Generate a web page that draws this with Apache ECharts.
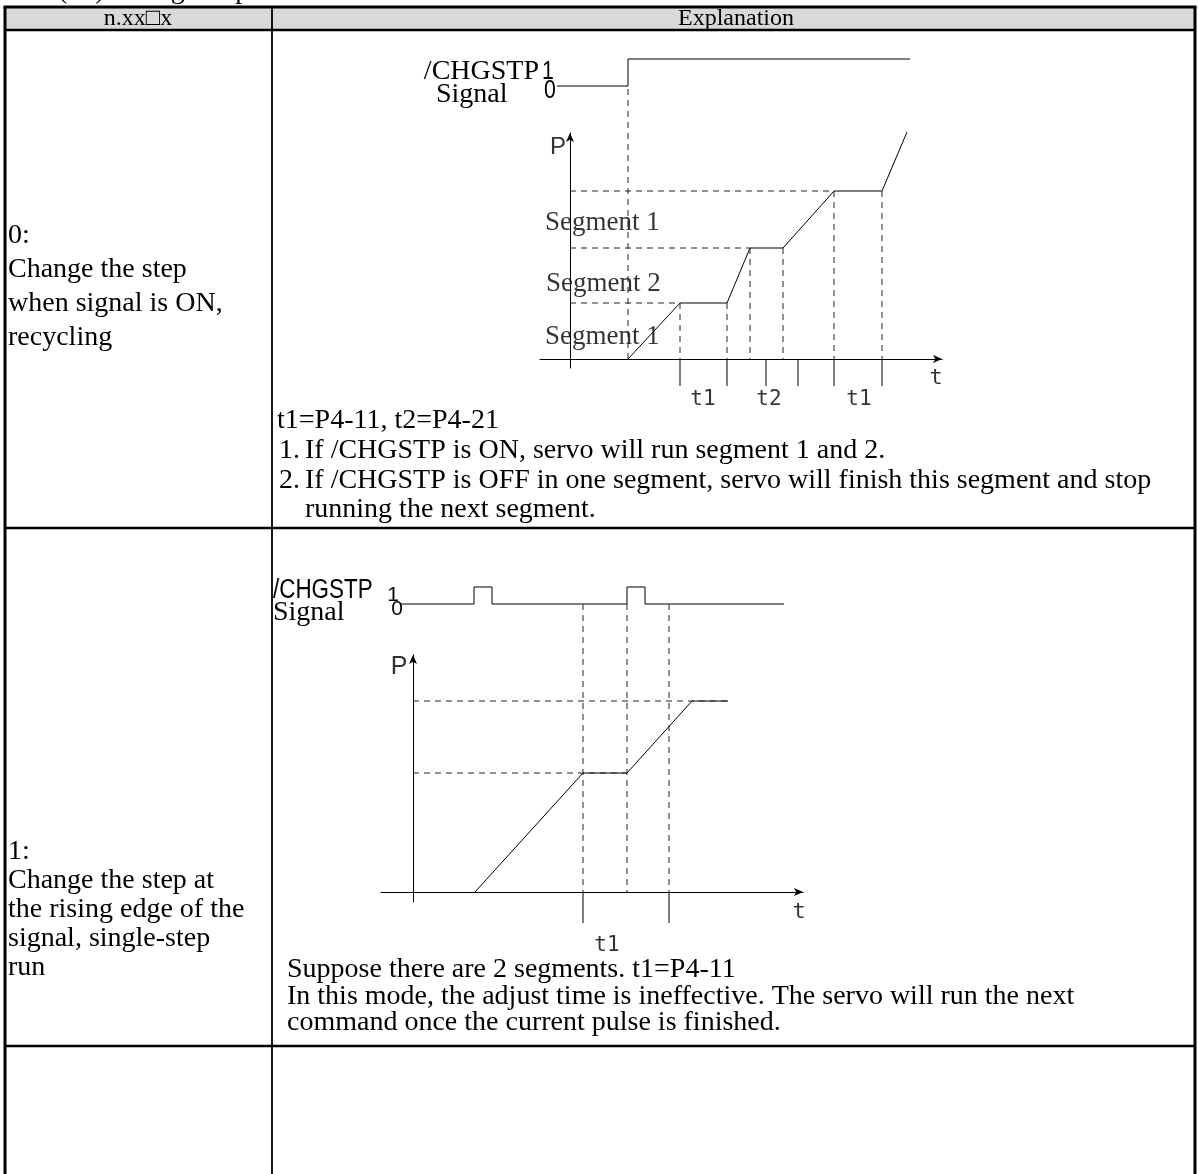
<!DOCTYPE html>
<html>
<head>
<meta charset="utf-8">
<script src="https://cdn.jsdelivr.net/npm/echarts@6/dist/echarts.min.js"></script>
<style>
html,body{margin:0;padding:0;background:#fff;}
#main{width:1198px;height:1174px;}
</style>
</head>
<body>
<div id="main"></div>
<script>
// ---- data (diagram units: 1 = 10px) ----
// mode 0 : change step while signal is ON
var sig0 = [[-1.3, 0], [5.8, 0], [5.8, 1], [34, 1]];
var pos0 = [[5.8, 0], [11, 5.6], [15.7, 5.6], [18, 11.1], [21.3, 11.1], [26.4, 16.8], [31.2, 16.8], [33.7, 22.7]];
var levels0 = [[11, 5.6], [18, 11.1], [26.4, 16.8]];
var drops0 = [[11, 5.6], [15.7, 5.6], [18, 11.1], [21.3, 11.1], [26.4, 16.8], [31.2, 16.8]];
var ticks0 = [11, 15.7, 19.6, 22.8, 26.4, 31.2];
var edge0 = 5.8, edgeTop0 = 27.3;
var segNames0 = [['Segment 1', -2.5, 13.6], ['Segment 2', -2.4, 7.5], ['Segment 1', -2.5, 2.2]];
var tNames0 = [['t1', 13.3, -4.1], ['t2', 19.9, -4.1], ['t1', 28.9, -4.1]];

// mode 1 : change step at rising edge
var sig1 = [[-1.2, 0], [6.1, 0], [6.1, 1], [7.9, 1], [7.9, 0], [21.4, 0], [21.4, 1], [23.2, 1], [23.2, 0], [37.1, 0]];
var pos1 = [[6.2, 0], [17, 11.9], [21.4, 11.9], [27.9, 19.1], [31.5, 19.1]];
var levels1 = [[21.4, 11.9], [31.5, 19.1]];
var drops1 = [17, 21.4, 25.6];
var ticks1 = [17, 25.6];
var dropTop1 = 28.8;
var tNames1 = [['t1', 19.4, -5.4]];

var SERIF = '"Liberation Serif","Times New Roman",serif';
var SANS = '"Liberation Sans",sans-serif';
var MONO = '"DejaVu Sans Mono",monospace';

var chart = echarts.init(document.getElementById('main'));

var blk = {color: '#000', width: 1};
var dash = {color: '#222', width: 1, type: [6, 5]};

function seg(xi, yi, pts, style) {
    return {type: 'line', xAxisIndex: xi, yAxisIndex: yi, data: pts, symbol: 'none',
        lineStyle: style, clip: false, silent: true};
}
function texts(xi, yi, arr, font, size, align) {
    return {type: 'scatter', xAxisIndex: xi, yAxisIndex: yi, symbolSize: 0, clip: false, silent: true,
        data: arr.map(function (a) { return {value: [a[1], a[2]], name: a[0]}; }),
        label: {show: true, position: 'inside', formatter: '{b}', color: '#000',
            fontFamily: font, fontSize: size, align: align || 'center', verticalAlign: 'middle'}};
}
function dim(xi, yi, a, b, y, syms) {
    return {type: 'line', xAxisIndex: xi, yAxisIndex: yi, data: [], silent: true,
        markLine: {silent: true, symbol: syms || ['arrow', 'arrow'], symbolSize: [6, 9],
            lineStyle: {color: '#000', width: 1, type: 'solid'}, label: {show: false},
            data: [[{coord: [a, y]}, {coord: [b, y]}]]}};
}

var grids = [
    {left: 557, top: 59, width: 385, height: 27},     // 0 signal, mode 0
    {left: 540, top: 133, width: 402, height: 235},   // 1 position, mode 0
    {left: 401, top: 587, width: 402, height: 17},    // 2 signal, mode 1
    {left: 381, top: 655, width: 422, height: 247}    // 3 position, mode 1
];
function sigAxisX(gi, min, max) { return {type: 'value', gridIndex: gi, show: false, min: min, max: max}; }
function sigAxisY(gi) { return {type: 'value', gridIndex: gi, show: false, min: 0, max: 1}; }
function posAxis(gi, min, max) {
    return {type: 'value', gridIndex: gi, min: min, max: max,
        axisLine: {onZero: true, symbol: ['none', 'arrow'], symbolSize: [6, 9], lineStyle: blk},
        axisTick: {show: false}, axisLabel: {show: false}, splitLine: {show: false}};
}

var series = [];
// mode 0
series.push(seg(0, 0, sig0, blk));
series.push(seg(1, 1, pos0, blk));
series.push(seg(1, 1, [[edge0, 0], [edge0, edgeTop0]], dash));
levels0.forEach(function (p) { series.push(seg(1, 1, [[0, p[1]], p], dash)); });
drops0.forEach(function (p) { series.push(seg(1, 1, [p, [p[0], 0]], dash)); });
ticks0.forEach(function (x) { series.push(seg(1, 1, [[x, 0], [x, -2.7]], blk)); });
series.push(dim(1, 1, ticks0[0], ticks0[1], -2.1));
series.push(dim(1, 1, 19.6, 22.1, -2.1, ['arrow', 'none']));
series.push(dim(1, 1, 18.5, 18.1, -2.1, ['none', 'arrow']));
series.push(dim(1, 1, ticks0[4], ticks0[5], -2.1));
series.push(texts(1, 1, segNames0, SERIF, 27, 'left'));
series.push(texts(1, 1, tNames0, MONO, 21));
series.push(texts(1, 1, [['P', -1.2, 21.2]], SANS, 24));
series.push(texts(1, 1, [['t', 36.6, -1.9]], MONO, 22));
// mode 1
series.push(seg(2, 2, sig1, blk));
series.push(seg(3, 3, pos1, blk));
levels1.forEach(function (p) { series.push(seg(3, 3, [[0, p[1]], p], dash)); });
drops1.forEach(function (x) { series.push(seg(3, 3, [[x, dropTop1], [x, 0]], dash)); });
ticks1.forEach(function (x) { series.push(seg(3, 3, [[x, 0], [x, -3.1]], blk)); });
series.push(dim(3, 3, ticks1[0], ticks1[1], -2.6));
series.push(texts(3, 3, tNames1, MONO, 21));
series.push(texts(3, 3, [['P', -1.4, 22.5]], SANS, 25));
series.push(texts(3, 3, [['t', 38.6, -2]], MONO, 22));

// ---- table layout ----
var T = {l: 5, r: 1195, top: 7, head: 30, col: 272, row1: 528, row2: 1046, bottom: 1174};
function hline(y, x1, x2, w) { return {type: 'line', shape: {x1: x1, y1: y, x2: x2, y2: y}, style: {stroke: '#000', lineWidth: w}, silent: true}; }
function vline(x, y1, y2, w) { return {type: 'line', shape: {x1: x, y1: y1, x2: x, y2: y2}, style: {stroke: '#000', lineWidth: w}, silent: true}; }
function txt(s, x, y, opt) {
    opt = opt || {};
    var el = {type: 'text', x: x, y: y, silent: true, z: 10,
        style: {text: s, fill: '#000', font: (opt.size || 28) + 'px ' + (opt.font || SERIF),
            textAlign: opt.align || 'left', textVerticalAlign: 'middle'}};
    if (opt.sx) { el.scaleX = opt.sx; }
    return el;
}
var g = [];
g.push({type: 'rect', shape: {x: T.l, y: T.top, width: T.r - T.l, height: T.head - T.top}, style: {fill: '#d9d9d9'}, silent: true});
g.push(txt('(10) Change step', 58, -9, {}));
g.push(hline(T.top, T.l - 1.5, T.r + 1.5, 3));
g.push(hline(T.head, T.l, T.r, 2.5));
g.push(hline(T.row1, T.l, T.r, 2.5));
g.push(hline(T.row2, T.l, T.r, 2.5));
g.push(vline(T.l, T.top, T.bottom, 3));
g.push(vline(T.r, T.top, T.bottom, 3));
g.push(vline(T.col, T.top, T.bottom, 1.8));
g.push(txt('n.xx\u25a1x', 138, 19, {align: 'center', size: 24}));
g.push(txt('Explanation', 736, 19, {align: 'center', size: 24}));

// left column
var left0 = ['0:', 'Change the step', 'when signal is ON,', 'recycling'];
var left1 = ['1:', 'Change the step at', 'the rising edge of the', 'signal, single-step', 'run'];
left0.forEach(function (s, i) { g.push(txt(s, 8, 236 + i * 34, {})); });
left1.forEach(function (s, i) { g.push(txt(s, 8, 852 + i * 29, {})); });

// diagram captions
g.push(txt('/CHGSTP', 539, 72, {align: 'right'}));
g.push(txt('Signal', 436, 95, {}));
g.push(txt('1', 548, 72, {font: SANS, size: 25, align: 'center', sx: 0.85}));
g.push(txt('0', 550, 91, {font: SANS, size: 25, align: 'center', sx: 0.85}));
g.push(txt('/CHGSTP', 273, 591, {font: SANS, size: 27, sx: 0.83}));
g.push(txt('Signal', 273, 613, {}));
g.push(txt('1', 393, 595, {font: SANS, size: 21, align: 'center'}));
g.push(txt('0', 397, 609, {font: SANS, size: 21, align: 'center'}));

// right column notes
g.push(txt('t1=P4-11, t2=P4-21', 277, 421, {}));
g.push(txt('1.', 279, 451, {}));
g.push(txt('If /CHGSTP is ON, servo will run segment 1 and 2.', 305, 451, {}));
g.push(txt('2.', 279, 481, {}));
g.push(txt('If /CHGSTP is OFF in one segment, servo will finish this segment and stop', 305, 481, {}));
g.push(txt('running the next segment.', 305, 510, {}));
g.push(txt('Suppose there are 2 segments. t1=P4-11', 287, 970, {}));
g.push(txt('In this mode, the adjust time is ineffective. The servo will run the next', 287, 997, {}));
g.push(txt('command once the current pulse is finished.', 287, 1023, {}));

chart.setOption({
    animation: false,
    backgroundColor: '#fff',
    grid: grids,
    xAxis: [sigAxisX(0, -1.3, 37.2), posAxis(1, -3, 37.2), sigAxisX(2, -1.2, 39), posAxis(3, -3.2, 39)],
    yAxis: [sigAxisY(0), posAxis(1, -0.9, 22.6), sigAxisY(2), posAxis(3, -1, 23.7)],
    series: series,
    graphic: g
});
</script>
</body>
</html>
